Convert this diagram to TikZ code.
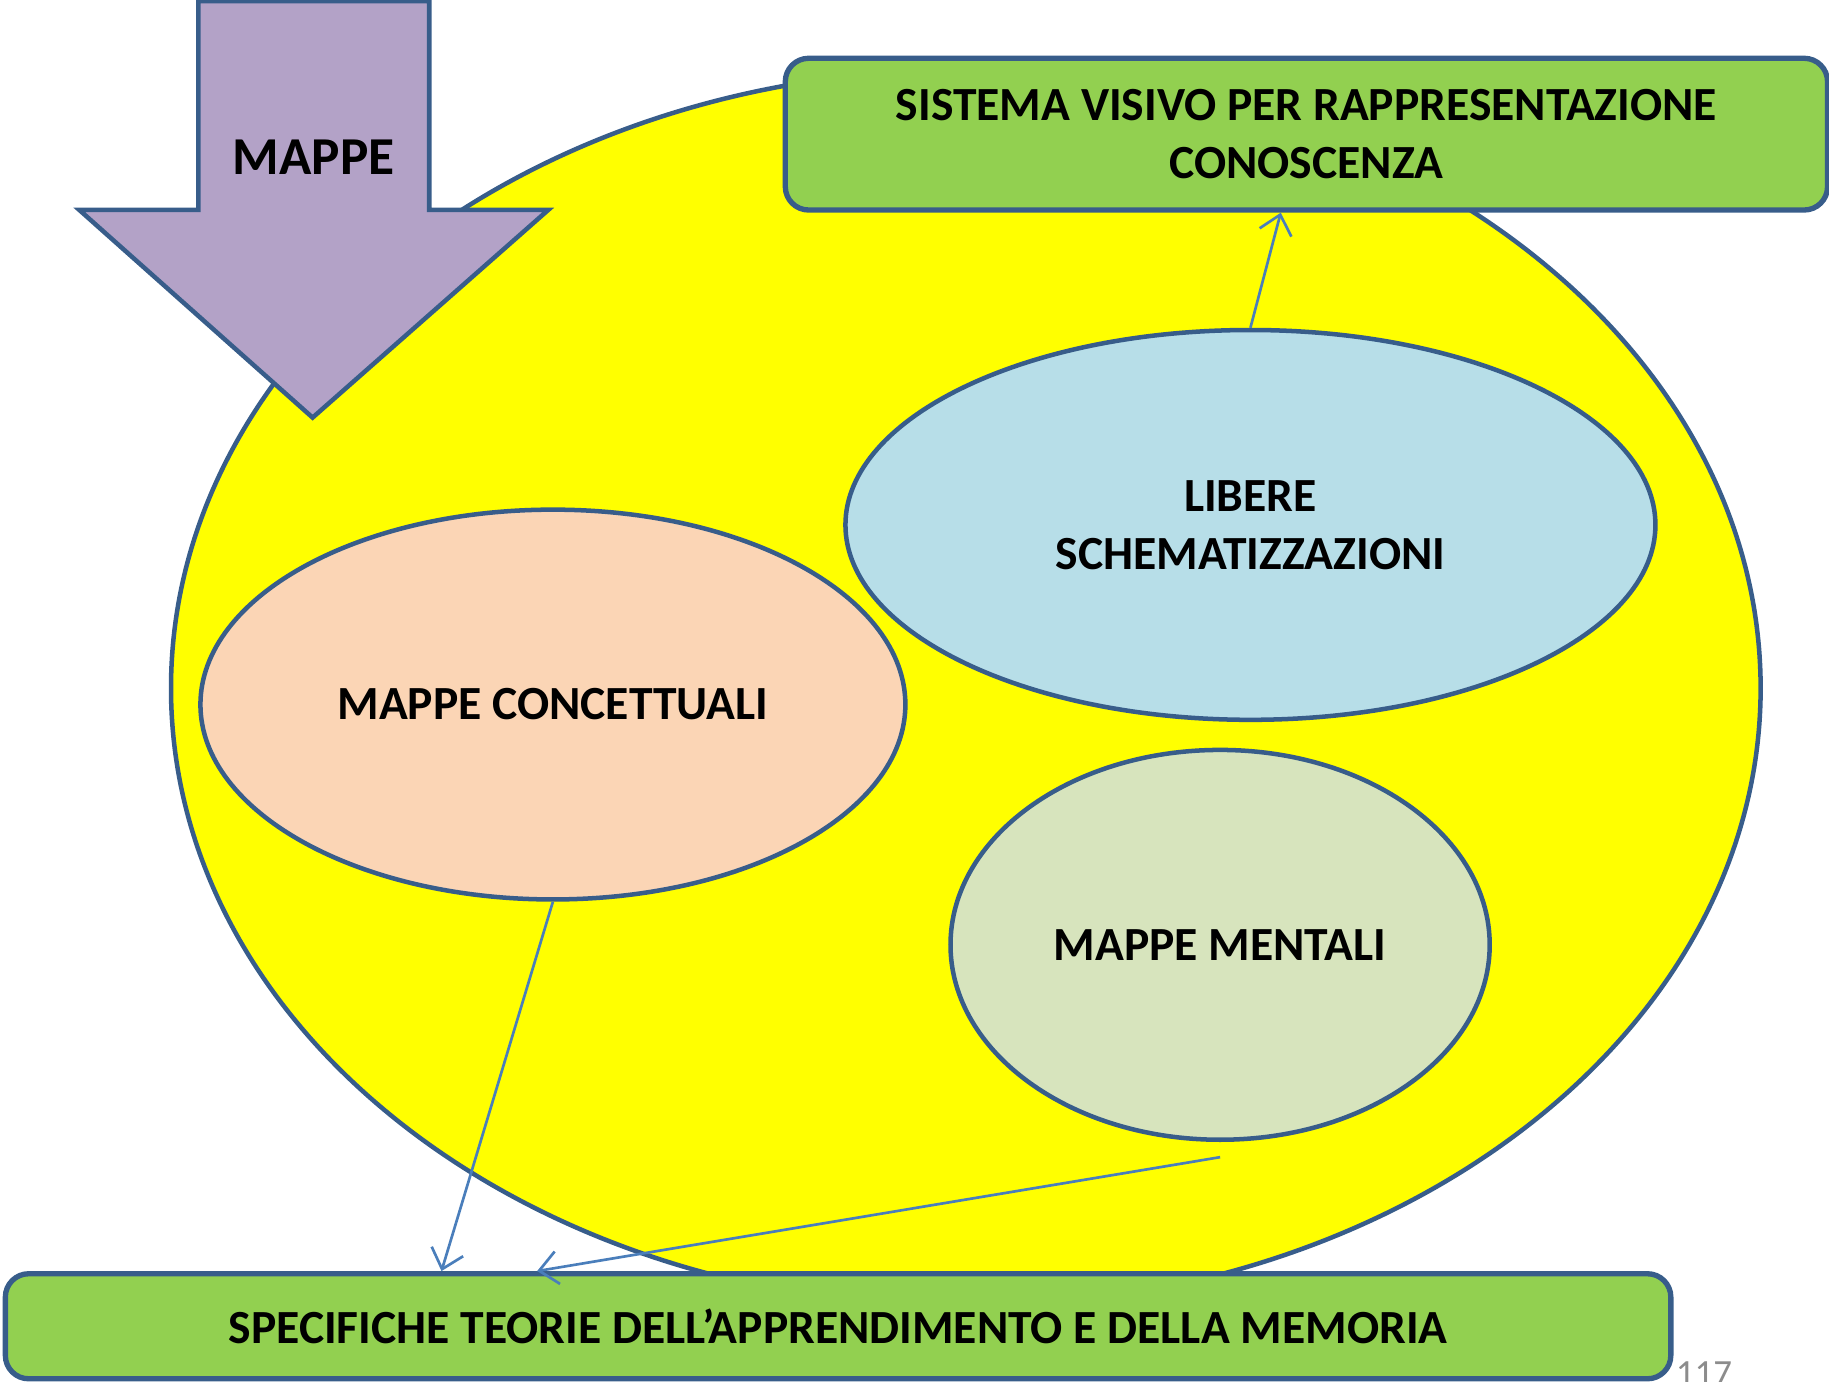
\documentclass[tikz,border=0pt]{standalone}
\usepackage{fontspec}
\setmainfont{Carlito}
\usepackage{xcolor}
\usetikzlibrary{shapes.geometric,arrows.meta,positioning,calc}

\definecolor{bordo}{RGB}{56,93,138}
\definecolor{freccia}{RGB}{74,126,187}
\definecolor{giallo}{RGB}{255,255,0}
\definecolor{viola}{RGB}{179,162,199}
\definecolor{verde}{RGB}{146,208,80}
\definecolor{pesca}{RGB}{251,213,181}
\definecolor{azzurro}{RGB}{183,222,232}
\definecolor{verdino}{RGB}{215,228,189}
\definecolor{grigio}{RGB}{140,140,140}

\begin{document}
\begin{tikzpicture}[
    x=0.01cm, y=-0.01cm,
    txt/.style={font=\bfseries\fontsize{11.6}{14.2}\selectfont, align=center},
    bolla/.style={ellipse, draw=bordo, line width=1.1pt, inner sep=0pt, txt},
    riquadro/.style={rectangle, rounded corners=0.2cm, draw=bordo, line width=1.3pt, fill=verde, inner sep=0pt, txt},
    arrow/.style={-{Straight Barb[length=4.5pt,width=8pt]}, freccia, line width=0.65pt}
]
    \useasboundingbox (0,0) rectangle (1568,1184);
    \clip (0,0) rectangle (1568,1184);

    % Background field
    \node[bolla, fill=giallo, minimum width=13.62cm, minimum height=10.60cm] (ambito) at (828,590) {};

    % Big arrow
    \draw[draw=bordo, line width=1.1pt, fill=viola] (170,1) -- (368,1) -- (368,180) -- (470,180)
        -- (268,358) -- (68,180) -- (170,180) -- cycle;
    \node[txt, font=\bfseries\fontsize{13}{15}\selectfont] (mappe) at (269,135) {MAPPE};

    % Top box
    \node[riquadro, minimum width=8.93cm, minimum height=1.30cm] (sistema) at (1120,115)
        {SISTEMA VISIVO PER RAPPRESENTAZIONE\\CONOSCENZA};

    % Inner ellipses
    \node[bolla, fill=azzurro, minimum width=6.94cm, minimum height=3.34cm] (libere) at (1072,450)
        {LIBERE\\SCHEMATIZZAZIONI};
    \node[bolla, fill=pesca, minimum width=6.04cm, minimum height=3.34cm] (concettuali) at (474,604)
        {MAPPE CONCETTUALI};
    \node[bolla, fill=verdino, minimum width=4.62cm, minimum height=3.34cm] (mentali) at (1046,810)
        {MAPPE MENTALI};

    % Bottom box
    \node[riquadro, minimum width=14.27cm, minimum height=0.90cm] (specifiche) at (718.5,1137)
        {SPECIFICHE TEORIE DELL’APPRENDIMENTO E DELLA MEMORIA};

    % Connectors
    \draw[arrow] (libere.north) -- ($(sistema.south)+(-22,0)$);
    \draw[arrow] (concettuali.south) -- ($(specifiche.north)+(-340,0)$);
    \draw[arrow] ($(mentali.south)+(0,13)$) -- ($(specifiche.north)+(-258,0)$);

    % Page number
    \node[anchor=north west, inner sep=0pt, text=grigio, font=\fontsize{9}{11}\selectfont] (pagina) at (1436,1167) {117};
\end{tikzpicture}
\end{document}
